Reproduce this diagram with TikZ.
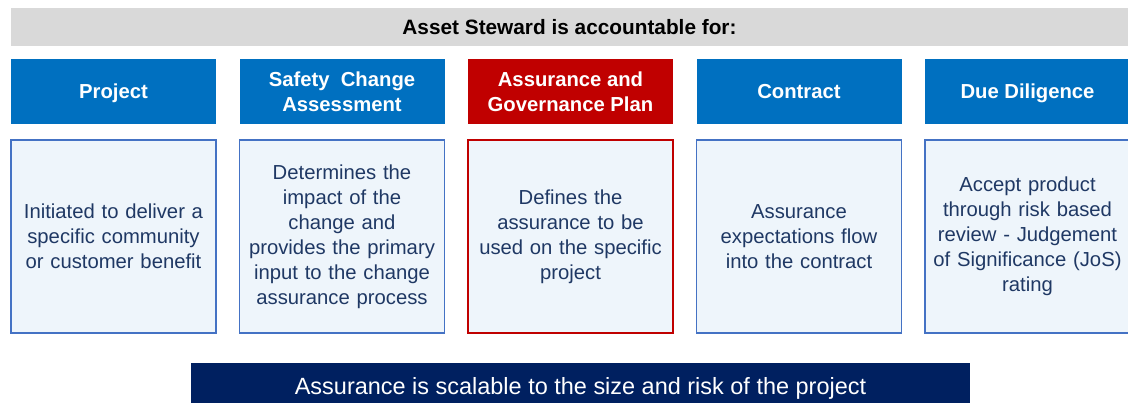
\documentclass[tikz,border=0pt]{standalone}
\usepackage{fontspec}
\setmainfont{Liberation Sans}
\usetikzlibrary{positioning}
\definecolor{hdblue}{HTML}{0070C0}
\definecolor{hdred}{HTML}{C00000}
\definecolor{boxline}{HTML}{4472C4}
\definecolor{boxfill}{HTML}{EEF5FB}
\definecolor{bodyink}{HTML}{1F3864}
\definecolor{banner}{HTML}{002060}
\definecolor{topbar}{HTML}{D9D9D9}

\begin{document}
\begin{tikzpicture}[x=0.75pt, y=-0.75pt, node distance=12pt and 17.625pt,
  hd/.style={fill=hdblue, text=white, font=\bfseries\fontsize{15.2}{18.75}\selectfont, align=center, minimum width=153.75pt, minimum height=48.75pt, inner sep=2pt, outer sep=0pt},
  oneline/.style={text height=14pt, text depth=2.8pt},
  bd/.style={draw=boxline, line width=1.4pt, fill=boxfill, text=bodyink, font=\fontsize{15.2}{18.75}\selectfont, align=center, text width=148pt, minimum width=153.75pt, minimum height=144.75pt, inner sep=2pt, outer sep=0pt}]
  \useasboundingbox (0,0) rectangle (1128,403);
  % title bar
  \node[fill=topbar, minimum width=837.75pt, minimum height=28.5pt, inner sep=0pt, font=\bfseries\fontsize{15.6}{18}\selectfont] (title) at (569.5,27) {Asset Steward is accountable for:};
  % column headers
  \node[hd, oneline, anchor=north west] (hproj) at (11,59) {Project};
  \node[hd, right=of hproj] (hsafe) {Safety\ \ Change\\Assessment};
  \node[hd, right=of hsafe, fill=hdred] (hplan) {Assurance and\\Governance Plan};
  \node[hd, oneline, right=of hplan] (hcont) {Contract};
  \node[hd, oneline, right=of hcont] (hdue) {Due Diligence};
  % column bodies
  \node[bd, below=of hproj] (bproj) {Initiated to deliver a\\specific community\\or customer benefit};
  \node[bd, below=of hsafe] (bsafe) {Determines the\\impact of the\\change and\\provides the primary\\input to the change\\assurance process};
  \node[bd, below=of hplan, draw=hdred] (bplan) {Defines the\\assurance to be\\used on the specific\\project};
  \node[bd, below=of hcont] (bcont) {Assurance\\expectations flow\\into the contract};
  \node[bd, below=of hdue] (bdue) {Accept product\\through risk based\\review - Judgement\\of Significance (JoS)\\rating};
  % footer
  \node[fill=banner, text=white, minimum width=584.25pt, minimum height=37.5pt, inner sep=0pt, font=\fontsize{17.6}{20}\selectfont] (scale) at (580.5,388) {Assurance is scalable to the size and risk of the project};
\end{tikzpicture}
\end{document}
